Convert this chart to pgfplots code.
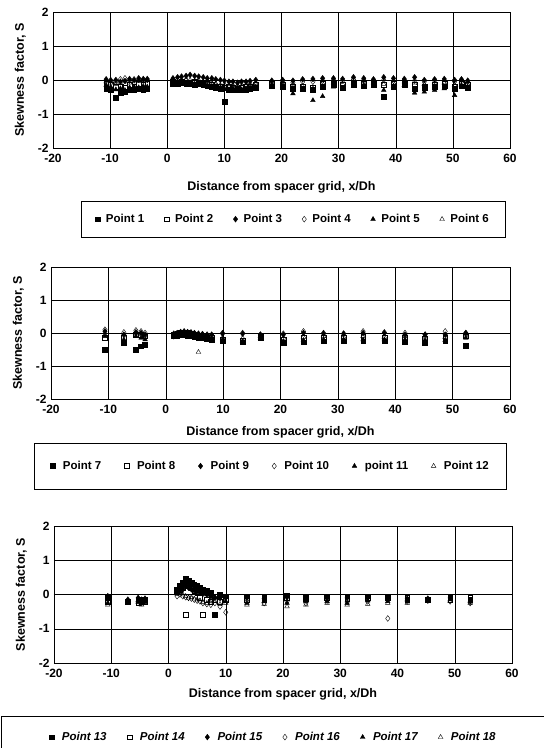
\documentclass[border=0pt]{standalone}
\usepackage{fontspec}
\setmainfont{Liberation Sans}
\usepackage{pgfplots}
\usepackage{pgfplotstable}
\pgfplotsset{compat=1.18}

% skewness factor S at each measuring point, three panels
\pgfplotstableread{
x p1 p2 p3 p4 p5 p6
-10.7 -0.25 -0.10 0.02 -0.02 -0.15 -0.05
-9.9 -0.30 -0.15 -0.02 0.00 -0.20 -0.08
-9.0 -0.52 -0.20 0.00 -0.05 -0.28 -0.12
-8.2 -0.38 -0.18 -0.05 0.02 -0.25 -0.10
-7.4 -0.35 -0.22 -0.03 0.05 -0.30 -0.05
-6.6 -0.30 -0.15 0.03 -0.02 -0.22 -0.08
-5.8 -0.28 -0.18 0.00 0.02 -0.20 -0.05
-5.0 -0.25 -0.12 0.05 0.00 -0.22 -0.03
-4.2 -0.28 -0.15 0.02 0.03 -0.18 -0.05
-3.5 -0.25 -0.10 0.03 0.00 -0.20 -0.02
1.0 -0.10 -0.05 0.05 -0.02 -0.08 0.00
1.8 -0.12 -0.08 0.08 0.00 -0.10 0.02
2.5 -0.08 -0.05 0.10 -0.05 -0.12 0.00
3.3 -0.10 -0.10 0.12 -0.02 -0.08 0.03
4.0 -0.12 -0.08 0.15 -0.08 -0.10 0.00
4.8 -0.15 -0.05 0.12 -0.05 -0.12 -0.02
5.5 -0.10 -0.10 0.10 -0.10 -0.15 0.00
6.3 -0.15 -0.12 0.08 -0.08 -0.12 -0.05
7.0 -0.18 -0.10 0.05 -0.12 -0.15 -0.03
7.8 -0.20 -0.15 0.05 -0.10 -0.18 -0.08
8.5 -0.22 -0.18 0.02 -0.15 -0.20 -0.10
9.3 -0.25 -0.20 0.00 -0.18 -0.22 -0.15
10.0 -0.65 -0.22 -0.02 -0.20 -0.25 -0.12
10.8 -0.28 -0.20 -0.05 -0.22 -0.28 -0.18
11.5 -0.30 -0.22 -0.05 -0.20 -0.25 -0.15
12.3 -0.28 -0.25 -0.08 -0.18 -0.30 -0.20
13.0 -0.30 -0.22 -0.05 -0.20 -0.28 -0.18
13.8 -0.28 -0.20 -0.05 -0.15 -0.25 -0.15
14.5 -0.25 -0.18 -0.03 -0.12 -0.22 -0.15
15.5 -0.22 -0.15 0.00 -0.10 -0.20 -0.12
18.3 -0.18 -0.12 -0.02 -0.05 -0.15 -0.10
20.2 -0.20 -0.15 0.00 -0.05 -0.18 -0.10
22.0 -0.25 -0.18 -0.02 -0.08 -0.40 -0.15
23.7 -0.25 -0.20 0.02 -0.05 -0.28 -0.18
25.5 -0.28 -0.22 0.03 -0.05 -0.60 -0.25
27.2 -0.20 -0.12 0.05 -0.02 -0.48 -0.10
29.1 -0.15 -0.12 0.05 0.00 -0.20 -0.08
30.7 -0.22 -0.15 0.03 -0.02 -0.25 -0.12
32.6 -0.15 -0.10 0.08 0.02 -0.18 -0.08
34.4 -0.18 -0.12 0.05 0.00 -0.15 -0.08
36.1 -0.15 -0.10 0.02 -0.02 -0.18 -0.08
37.9 -0.48 -0.15 0.08 0.00 -0.30 -0.12
39.6 -0.20 -0.12 0.05 -0.02 -0.18 -0.08
41.5 -0.15 -0.10 0.03 0.00 -0.15 -0.05
43.3 -0.25 -0.15 0.08 -0.02 -0.38 -0.10
45.0 -0.22 -0.18 0.00 -0.05 -0.35 -0.12
46.8 -0.20 -0.15 0.02 -0.02 -0.30 -0.10
48.5 -0.18 -0.12 0.03 -0.05 -0.25 -0.08
50.3 -0.25 -0.20 0.00 -0.05 -0.45 -0.15
51.5 -0.18 -0.10 0.02 0.00 -0.15 -0.05
52.6 -0.22 -0.15 -0.02 -0.05 -0.20 -0.12
}\tabA

\pgfplotstableread{
x p7 p8 p9 p10 p11 p12
-10.6 -0.50 -0.15 0.05 0.10 -0.10 -0.05
-7.3 -0.30 -0.15 -0.05 0.02 -0.20 -0.08
-5.2 -0.50 -0.05 0.02 0.08 -0.10 0.00
-4.3 -0.40 -0.05 0.00 0.05 -0.15 -0.05
-3.6 -0.35 -0.10 -0.05 0.00 -0.20 -0.12
1.4 -0.10 -0.05 -0.02 -0.10 -0.12 -0.05
2.0 -0.08 -0.02 0.00 -0.05 -0.10 -0.02
2.6 -0.05 0.00 0.03 -0.02 -0.08 0.00
3.2 -0.05 0.02 0.05 0.00 -0.05 0.02
3.8 -0.08 0.00 0.03 0.02 -0.08 0.00
4.4 -0.10 -0.02 0.02 0.00 -0.10 -0.05
5.0 -0.12 -0.05 0.00 -0.02 -0.12 -0.08
5.7 -0.15 -0.12 -0.02 -0.05 -0.15 -0.58
6.4 -0.15 -0.15 -0.03 -0.05 -0.18 -0.12
7.2 -0.18 -0.15 -0.05 -0.08 -0.18 -0.15
8.0 -0.20 -0.15 -0.05 -0.08 -0.20 -0.15
9.9 -0.25 -0.20 -0.02 0.00 -0.20 -0.15
13.4 -0.28 -0.22 -0.02 0.00 -0.25 -0.15
16.5 -0.15 -0.12 -0.05 -0.05 -0.15 -0.10
20.5 -0.30 -0.20 -0.05 -0.02 -0.25 -0.15
24.0 -0.28 -0.15 0.00 0.05 -0.22 -0.12
27.5 -0.25 -0.15 -0.02 0.00 -0.20 -0.10
31.0 -0.25 -0.15 -0.02 -0.02 -0.20 -0.12
34.4 -0.25 -0.12 0.00 0.05 -0.20 -0.10
38.1 -0.25 -0.15 0.00 0.02 -0.20 -0.12
41.7 -0.28 -0.15 -0.05 0.00 -0.20 -0.10
45.2 -0.30 -0.18 -0.05 -0.05 -0.22 -0.15
48.7 -0.25 -0.15 -0.05 0.05 -0.22 -0.12
52.3 -0.38 -0.10 0.00 0.00 -0.15 -0.08
}\tabB

\pgfplotstableread{
x p13 p14 p15 p16 p17 p18
-10.6 -0.10 -0.20 -0.05 -0.15 -0.25 -0.30
-7.1 -0.20 -0.20 -0.15 -0.20 -0.20 -0.25
-5.3 -0.15 -0.25 -0.10 -0.20 -0.18 -0.22
-4.7 -0.20 -0.20 -0.15 -0.25 -0.25 -0.30
-4.1 -0.15 -0.22 -0.12 -0.18 -0.22 -0.25
1.5 0.15 0.10 0.05 -0.05 0.10 0.02
2.0 0.25 0.15 0.10 0.00 0.18 0.05
2.5 0.35 0.20 0.15 -0.05 0.22 0.00
3.0 0.45 -0.58 0.25 -0.08 0.30 -0.05
3.5 0.40 0.25 0.20 -0.10 0.28 -0.10
4.0 0.35 0.20 0.15 -0.12 0.25 -0.08
4.5 0.30 0.10 0.12 -0.15 0.20 -0.12
5.0 0.25 0.05 0.10 -0.18 0.15 -0.15
5.5 0.20 -0.10 0.05 -0.20 0.10 -0.18
6.0 0.15 -0.58 0.02 -0.25 0.05 -0.22
6.7 0.10 -0.15 0.00 -0.28 0.00 -0.25
7.4 0.05 -0.20 -0.05 -0.30 -0.05 -0.25
8.1 -0.60 -0.15 -0.08 -0.25 -0.10 -0.20
9.0 0.00 -0.20 -0.10 -0.35 -0.12 -0.28
10.0 -0.05 -0.15 -0.10 -0.52 -0.20 -0.25
13.7 -0.05 -0.15 -0.10 -0.20 -0.25 -0.30
16.7 -0.10 -0.15 -0.12 -0.25 -0.20 -0.28
20.7 -0.02 -0.10 -0.08 -0.20 -0.25 -0.35
24.0 -0.10 -0.12 -0.15 -0.25 -0.20 -0.30
27.7 -0.05 -0.10 -0.10 -0.18 -0.20 -0.25
31.2 -0.05 -0.12 -0.10 -0.22 -0.25 -0.30
34.8 -0.05 -0.10 -0.10 -0.20 -0.18 -0.28
38.3 -0.05 -0.10 -0.15 -0.70 -0.20 -0.25
41.7 -0.15 -0.10 -0.12 -0.20 -0.15 -0.25
45.3 -0.15 -0.15 -0.12 -0.18 -0.15 -0.18
49.2 -0.05 -0.15 -0.10 -0.20 -0.15 -0.20
52.7 -0.15 -0.10 -0.20 -0.25 -0.20 -0.25
}\tabC

\pgfplotsset{
  skew/.style={
    scale only axis, width=457pt, height=136pt,
    xmin=-20, xmax=60, ymin=-2, ymax=2,
    xtick={-20,-10,...,60}, ytick={-2,-1,0,1,2},
    grid=major, grid style={black, thin},
    axis line style={black, thin},
    major tick length=0pt,
    /pgf/number format/assume math mode=true,
    tick label style={font=\bfseries\fontsize{12}{14}\selectfont},
    xticklabel style={yshift=-3pt},
    yticklabel style={xshift=-1pt},
    xlabel={Distance from spacer grid, x/Dh},
    ylabel={Skewness factor, S},
    label style={font=\bfseries\fontsize{12.5}{14}\selectfont},
    ylabel style={yshift=5pt},
    legend columns=6,
    legend style={draw=black, thin, font=\bfseries\fontsize{11.5}{13}\selectfont,
      inner xsep=14pt, inner ysep=11pt,
      /tikz/every odd column/.append style={column sep=4pt},
      /tikz/every even column/.append style={column sep=18pt}},
    every axis plot/.append style={only marks, black, mark size=2.4pt},
  },
  m1/.style={mark=square*}, m2/.style={mark=square, mark options={fill=white}},
  m3/.style={mark=diamond*, mark size=2.9pt}, m4/.style={mark=diamond, mark size=2.9pt, mark options={fill=white}},
  m5/.style={mark=triangle*, mark size=2.7pt}, m6/.style={mark=triangle, mark size=2.7pt, mark options={fill=white}},
}

\begin{document}
\begin{tikzpicture}
\useasboundingbox (0,0) rectangle (544pt,748pt);

\begin{axis}[skew, at={(53pt,736pt)}, anchor=north west,
  xlabel style={yshift=-12pt},
  legend style={at={(0.525,-0.39)}, anchor=north}]
\draw[black, thick] (axis cs:-20,0) -- (axis cs:60,0);
\addplot[m1] table[x=x, y=p1] {\tabA}; \addlegendentry{Point 1}
\addplot[m2] table[x=x, y=p2] {\tabA}; \addlegendentry{Point 2}
\addplot[m3] table[x=x, y=p3] {\tabA}; \addlegendentry{Point 3}
\addplot[m4] table[x=x, y=p4] {\tabA}; \addlegendentry{Point 4}
\addplot[m5] table[x=x, y=p5] {\tabA}; \addlegendentry{Point 5}
\addplot[m6] table[x=x, y=p6] {\tabA}; \addlegendentry{Point 6}
\end{axis}

\begin{axis}[skew, at={(51pt,481pt)}, anchor=north west, width=459pt, height=132pt,
  xlabel style={yshift=-6pt},
  legend style={at={(0.478,-0.333)}, anchor=north, inner ysep=16pt, inner xsep=16pt,
    /tikz/every odd column/.append style={column sep=6pt},
    /tikz/every even column/.append style={column sep=21pt}}]
\draw[black, thick] (axis cs:-20,0) -- (axis cs:60,0);
\addplot[m1] table[x=x, y=p7] {\tabB}; \addlegendentry{Point 7}
\addplot[m2] table[x=x, y=p8] {\tabB}; \addlegendentry{Point 8}
\addplot[m3] table[x=x, y=p9] {\tabB}; \addlegendentry{Point 9}
\addplot[m4] table[x=x, y=p10] {\tabB}; \addlegendentry{Point 10}
\addplot[m5] table[x=x, y=p11] {\tabB}; \addlegendentry{point 11}
\addplot[m6] table[x=x, y=p12] {\tabB}; \addlegendentry{Point 12}
\end{axis}

\begin{axis}[skew, at={(54pt,222pt)}, anchor=north west, width=458pt, height=137pt,
  xlabel style={yshift=-4pt},
  legend style={at={(0.479,-0.387)}, anchor=north, inner ysep=14pt, inner xsep=48pt,
    font=\bfseries\itshape\fontsize{11.5}{13}\selectfont,
    /tikz/every odd column/.append style={column sep=6pt},
    /tikz/every even column/.append style={column sep=18.5pt}}]
\draw[black, thick] (axis cs:-20,0) -- (axis cs:60,0);
\addplot[m1] table[x=x, y=p13] {\tabC}; \addlegendentry{Point 13}
\addplot[m2] table[x=x, y=p14] {\tabC}; \addlegendentry{Point 14}
\addplot[m3] table[x=x, y=p15] {\tabC}; \addlegendentry{Point 15}
\addplot[m4] table[x=x, y=p16] {\tabC}; \addlegendentry{Point 16}
\addplot[m5] table[x=x, y=p17] {\tabC}; \addlegendentry{Point 17}
\addplot[m6] table[x=x, y=p18] {\tabC}; \addlegendentry{Point 18}
\end{axis}
\end{tikzpicture}
\end{document}
